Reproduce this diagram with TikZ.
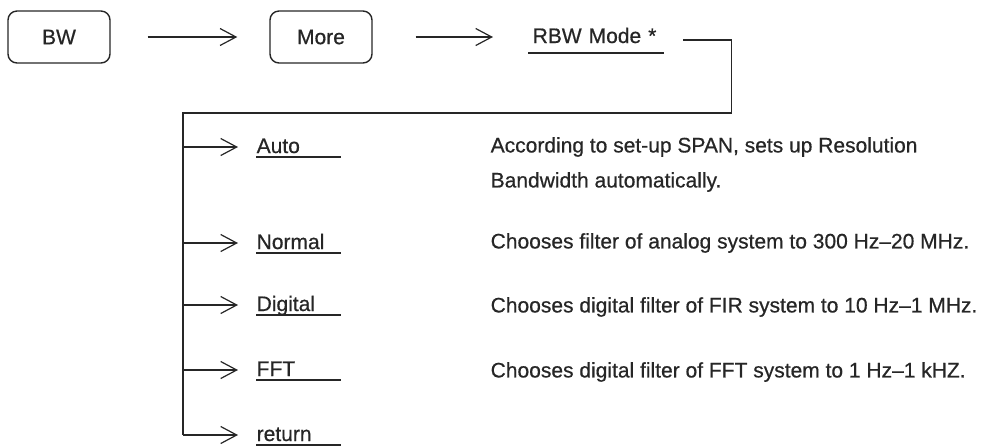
\documentclass[tikz,border=0pt]{standalone}
\usepackage{fontspec}
\setmainfont{Liberation Sans}[FakeBold=0.6]
\usetikzlibrary{positioning, arrows.meta}
\tikzset{
  key/.style={draw, rounded corners=4.5pt, minimum width=51pt, minimum height=26pt,
              line width=0.7pt},
  soft/.style={inner sep=0pt, text height=7.5pt, text depth=1.5pt, anchor=west},
  item/.style={soft, text width=42pt},
  desc/.style={anchor=west, inner sep=0pt, align=left},
  arr/.style={-{Straight Barb[length=8pt, width=8.5pt]}, line width=0.6pt},
  uline/.style={line width=1pt},
}
\begin{document}
\begin{tikzpicture}[x=0.5pt, y=-0.5pt, font=\fontsize{10.5}{17.5}\selectfont,
                    text=black!85, draw=black!85, line width=0.7pt]
  \useasboundingbox (0,0) rectangle (987,447);
  % top row of keys
  \node[key] (bw) at (59,37) {BW};
  \node[key] (more) at (321,37) {More};
  \node[soft, text width=67.5pt, text depth=4.5pt] (rbw) at (528,40) {\hspace{2pt}RBW Mode *};
  \draw[uline] (rbw.south west) -- (rbw.south east);
  \draw[arr, shorten <=18.5pt, shorten >=16pt] (bw) -- (more);
  \draw[arr, shorten <=21.5pt, shorten >=17.5pt] (more.east) -- (more.east -| rbw.west);
  % tree
  \coordinate (fork) at (183,113);
  \draw ([xshift=9.5pt]rbw.east) -- ++(48,0) |- (fork) -- (183,435);
  \foreach \name/\txt/\y in {auto/Auto/147, normal/Normal/243, digital/Digital/305,
                             fft/FFT/370, ret/return/435}{
    \node[item] (\name) at (256,\y) {\txt};
    \draw[uline] (\name.south west) -- (\name.south east);
    \draw[arr] (fork |- \name.west) -- ([xshift=-9pt]\name.west);
  }
  % descriptions
  \node[desc] (autotxt) at (490,164.5) {According to set-up SPAN, sets up Resolution\\Bandwidth automatically.};
  \node[desc] (normtxt) at (490,243) {Chooses filter of analog system to 300 Hz--20 MHz.};
  \node[desc] (digtxt) at (490,307) {Chooses digital filter of FIR system to 10 Hz--1 MHz.};
  \node[desc] (ffttxt) at (490,372) {Chooses digital filter of FFT system to 1 Hz--1 kHZ.};
\end{tikzpicture}
\end{document}
